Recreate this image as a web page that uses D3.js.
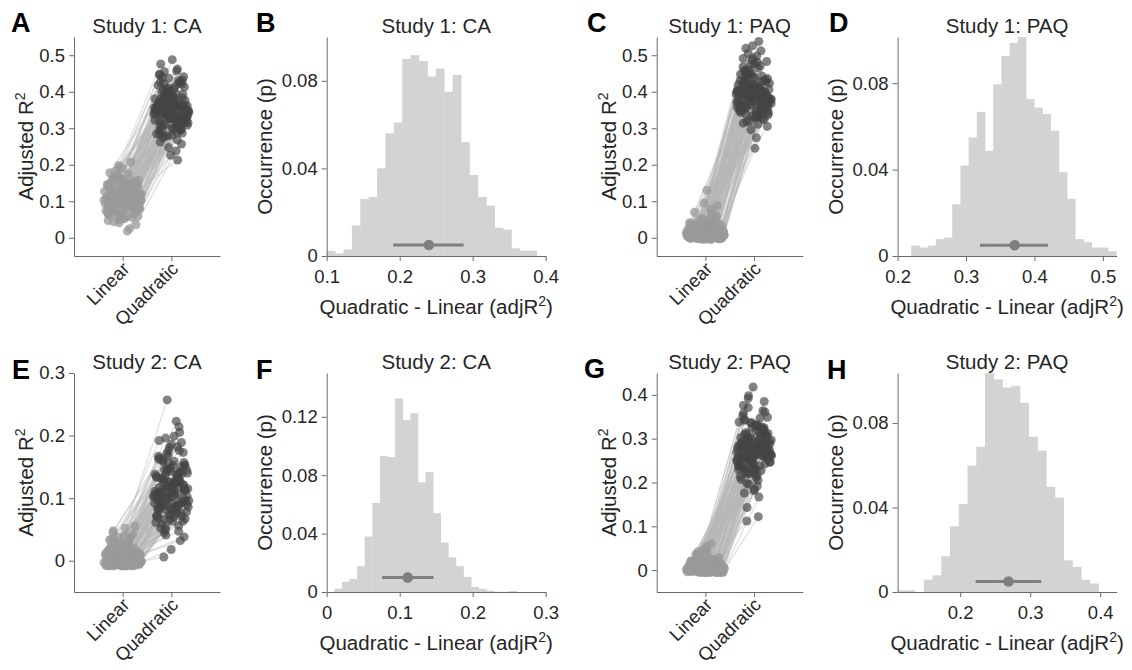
<!DOCTYPE html>
<html>
<head>
<meta charset="utf-8">
<script src="https://cdn.jsdelivr.net/npm/d3@7"></script>
<style>
  body { margin: 0; background: #fff; }
  svg text { font-family: "Liberation Sans", Arial, Helvetica, sans-serif; }
</style>
</head>
<body>
<svg id="fig" width="1132" height="670"></svg>
<script>
// ---------- Bootstrap samples of adjusted R^2 (linear vs quadratic fits) ----------
const modelNames = ["Linear", "Quadratic"];

const s1caLinear = [0.112,0.087,0.131,0.095,0.104,0.142,0.076,0.118,0.099,0.063,
0.125,0.108,0.091,0.154,0.082,0.113,0.101,0.047,0.136,0.097,
0.121,0.069,0.109,0.088,0.172,0.116,0.093,0.128,0.079,0.105,
0.146,0.058,0.111,0.098,0.133,0.084,0.119,0.102,0.036,0.124,
0.090,0.107,0.161,0.072,0.115,0.096,0.139,0.081,0.110,0.127,
0.066,0.103,0.149,0.094,0.120,0.053,0.114,0.086,0.198,0.100,
0.130,0.075,0.117,0.092,0.144,0.106,0.061,0.122,0.089,0.135,
0.025,0.108,0.157,0.078,0.126,0.097,0.112,0.070,0.140,0.101,
0.083,0.119,0.044,0.132,0.094,0.178,0.105,0.073,0.123,0.099,
0.151,0.085,0.116,0.059,0.129,0.091,0.207,0.104,0.068,0.018,
0.134,0.071,0.118,0.162,0.095,0.049,0.127,0.106,0.183,0.088,
0.141,0.064,0.113,0.152,0.079,0.101,0.168,0.056,0.124,0.093,
0.137,0.077,0.109,0.189,0.085,0.147,0.041,0.120,0.098,0.158,
0.067,0.131,0.110,0.174,0.082,0.143,0.052,0.115,0.096,0.165,
0.074,0.129,0.103,0.155,0.061,0.138,0.091,0.192,0.080,0.121];

const s1caQuadratic = [0.356,0.318,0.402,0.341,0.327,0.381,0.329,0.374,0.305,0.296,
0.391,0.338,0.352,0.422,0.287,0.345,0.362,0.268,0.369,0.334,
0.386,0.312,0.349,0.337,0.448,0.331,0.372,0.376,0.301,0.354,
0.431,0.279,0.343,0.325,0.405,0.314,0.358,0.347,0.238,0.379,
0.321,0.363,0.439,0.306,0.339,0.356,0.416,0.309,0.351,0.344,
0.293,0.333,0.409,0.346,0.384,0.274,0.361,0.328,0.476,0.340,
0.388,0.316,0.353,0.322,0.424,0.348,0.284,0.367,0.332,0.393,
0.226,0.357,0.457,0.311,0.362,0.336,0.373,0.299,0.411,0.344,
0.319,0.368,0.257,0.389,0.350,0.462,0.335,0.308,0.371,0.342,
0.428,0.326,0.355,0.288,0.397,0.330,0.488,0.359,0.213,0.247,
0.381,0.302,0.352,0.421,0.339,0.285,0.374,0.338,0.441,0.324,
0.397,0.296,0.366,0.418,0.317,0.347,0.432,0.281,0.371,0.329,
0.389,0.315,0.358,0.455,0.331,0.402,0.262,0.364,0.343,0.413,
0.298,0.379,0.355,0.437,0.322,0.395,0.278,0.361,0.336,0.426,
0.308,0.384,0.349,0.408,0.294,0.383,0.327,0.446,0.313,0.372];

const s1paqLinear = [0.012,0.004,0.027,-0.003,0.018,0.008,0.035,0.001,0.022,0.010,
0.046,0.006,0.015,-0.002,0.030,0.013,0.002,0.041,0.019,0.007,
0.025,-0.004,0.011,0.054,0.016,0.003,0.033,0.009,0.021,0.000,
0.038,0.014,0.005,0.062,0.024,-0.001,0.017,0.029,0.008,0.044,
0.012,0.002,0.026,0.070,0.010,0.019,-0.003,0.036,0.006,0.015,
0.050,0.004,0.023,0.011,-0.002,0.031,0.018,0.078,0.007,0.013,
0.040,0.001,0.020,0.009,0.028,-0.004,0.016,0.058,0.005,0.034,
0.012,0.003,0.088,0.022,0.010,-0.001,0.043,0.017,0.006,0.027,
0.014,0.130,0.008,0.037,0.002,0.020,0.048,0.011,-0.003,0.025,
0.015,0.066,0.004,0.032,0.009,0.019,0.000,0.095,0.013,0.039,
0.006,0.018,-0.002,0.011,0.029,0.003,0.014,-0.004,0.022,0.008,
0.035,0.001,0.016,0.010,-0.001,0.025,0.005,0.042,0.013,0.002,
0.019,-0.003,0.009,0.031,0.004,0.015,0.052,0.007,0.021,0.000,
0.012,0.027,-0.002,0.006,0.017,0.038,0.003,0.011,0.024,-0.004,
0.008,0.014,0.047,0.002,0.020,0.010,-0.001,0.033,0.005,0.016];

const s1paqQuadratic = [0.391,0.362,0.418,0.347,0.405,0.373,0.436,0.329,0.398,0.384,
0.452,0.357,0.412,0.318,0.427,0.379,0.366,0.471,0.393,0.341,
0.409,0.352,0.387,0.486,0.401,0.335,0.422,0.376,0.414,0.359,
0.443,0.381,0.368,0.498,0.396,0.324,0.403,0.431,0.388,0.461,
0.374,0.345,0.416,0.512,0.383,0.399,0.311,0.439,0.364,0.392,
0.468,0.355,0.420,0.378,0.338,0.425,0.397,0.526,0.371,0.389,
0.447,0.349,0.407,0.382,0.429,0.296,0.394,0.481,0.361,0.433,
0.386,0.343,0.538,0.411,0.377,0.331,0.456,0.400,0.367,0.419,
0.385,0.505,0.369,0.441,0.353,0.404,0.474,0.380,0.274,0.413,
0.390,0.492,0.358,0.426,0.372,0.406,0.245,0.519,0.384,0.448,
0.371,0.412,0.338,0.388,0.437,0.352,0.401,0.319,0.423,0.366,
0.458,0.343,0.395,0.379,0.331,0.431,0.361,0.476,0.392,0.348,
0.409,0.305,0.376,0.445,0.357,0.398,0.491,0.369,0.417,0.336,
0.384,0.429,0.326,0.363,0.404,0.465,0.355,0.386,0.421,0.314,
0.374,0.394,0.483,0.346,0.414,0.381,0.333,0.448,0.359,0.402];

const s2caLinear = [-0.006,0.004,-0.008,0.012,-0.002,0.001,0.019,-0.007,0.007,-0.004,
0.026,-0.001,0.003,-0.008,0.010,0.015,-0.005,0.033,0.002,-0.003,
0.006,-0.008,0.021,0.000,-0.006,0.013,0.040,-0.002,0.005,-0.007,
0.009,0.017,-0.004,0.001,0.028,-0.008,0.004,0.011,-0.001,0.052,
-0.005,0.008,0.002,-0.007,0.023,0.014,-0.003,0.006,0.036,-0.008,
0.000,0.010,-0.006,0.018,0.003,-0.002,0.045,0.007,-0.005,0.012,
-0.008,0.030,0.001,-0.004,0.016,0.005,-0.007,0.009,0.024,-0.001,
0.002,-0.006,0.055,0.013,-0.003,0.006,-0.008,0.020,0.000,0.038,
-0.005,0.011,0.004,-0.002,0.027,-0.007,0.008,0.015,-0.004,0.001,
0.048,-0.006,0.003,0.010,-0.008,0.022,0.006,-0.001,0.034,-0.003,
0.002,-0.005,0.009,-0.008,0.016,0.001,-0.003,0.025,0.005,-0.007,
0.012,-0.001,0.031,0.004,-0.006,0.008,0.019,-0.004,0.003,-0.008,
0.014,0.000,0.042,-0.002,0.007,-0.006,0.022,0.010,-0.008,0.002,
0.017,-0.004,0.005,0.029,-0.001,0.011,-0.007,0.006,0.037,-0.003,
0.013,0.001,-0.008,0.020,0.004,-0.005,0.009,0.026,-0.002,0.015];

const s2caQuadratic = [0.098,0.121,0.074,0.135,0.106,0.089,0.152,0.063,0.117,0.093,
0.168,0.102,0.128,0.045,0.112,0.143,0.084,0.182,0.109,0.078,
0.124,0.058,0.139,0.100,0.071,0.131,0.196,0.095,0.115,0.052,
0.126,0.147,0.086,0.104,0.161,0.032,0.119,0.133,0.091,0.257,
0.067,0.122,0.107,0.076,0.156,0.138,0.088,0.113,0.189,0.018,
0.097,0.129,0.081,0.145,0.111,0.094,0.214,0.125,0.072,0.134,
0.049,0.173,0.103,0.083,0.141,0.118,0.061,0.123,0.158,0.099,
0.110,0.069,0.223,0.137,0.090,0.116,0.006,0.150,0.101,0.192,
0.079,0.130,0.114,0.092,0.164,0.056,0.120,0.140,0.085,0.105,
0.205,0.066,0.108,0.127,0.041,0.153,0.119,0.096,0.176,0.087,
0.104,0.082,0.131,0.063,0.148,0.099,0.087,0.171,0.115,0.069,
0.132,0.094,0.181,0.111,0.075,0.124,0.157,0.081,0.107,0.047,
0.143,0.096,0.199,0.089,0.121,0.073,0.162,0.136,0.054,0.103,
0.152,0.085,0.117,0.176,0.092,0.138,0.066,0.113,0.186,0.079,
0.142,0.101,0.038,0.159,0.109,0.071,0.126,0.167,0.088,0.145];

const s2paqLinear = [0.003,-0.004,0.011,-0.001,0.006,-0.005,0.017,0.001,-0.003,0.008,
0.024,-0.002,0.004,-0.005,0.013,0.000,0.031,-0.004,0.007,0.002,
-0.005,0.010,0.019,-0.001,0.005,-0.003,0.038,0.003,-0.005,0.009,
0.014,-0.002,0.001,0.022,-0.004,0.006,0.060,0.000,-0.005,0.012,
0.004,-0.003,0.027,0.008,-0.001,0.002,-0.005,0.016,0.005,-0.004,
0.034,0.001,0.010,-0.002,0.007,-0.005,0.020,0.003,-0.003,0.013,
0.000,0.042,-0.004,0.006,0.009,-0.001,0.025,-0.005,0.004,0.015,
-0.002,0.002,0.029,-0.004,0.008,0.001,-0.005,0.018,0.005,-0.003,
0.011,0.047,-0.001,0.003,-0.005,0.021,0.007,0.000,-0.004,0.014,
0.036,-0.002,0.006,-0.005,0.009,0.002,0.023,-0.003,0.004,0.012,
-0.002,0.007,-0.005,0.013,0.001,-0.004,0.020,0.004,-0.003,0.009,
0.028,-0.001,0.005,-0.005,0.015,0.002,0.035,-0.004,0.008,0.000,
-0.005,0.011,0.023,-0.002,0.006,-0.004,0.044,0.003,-0.005,0.010,
0.016,-0.001,0.002,0.026,-0.003,0.007,0.054,0.001,-0.005,0.012,
0.004,-0.002,0.030,0.009,-0.004,0.003,0.018,-0.005,0.006,0.014];

const s2paqQuadratic = [0.271,0.243,0.298,0.256,0.281,0.219,0.312,0.262,0.234,0.289,
0.335,0.249,0.276,0.198,0.304,0.258,0.352,0.227,0.284,0.266,
0.211,0.293,0.321,0.252,0.279,0.238,0.371,0.268,0.184,0.291,
0.308,0.245,0.263,0.329,0.223,0.283,0.418,0.259,0.167,0.301,
0.274,0.231,0.342,0.287,0.254,0.269,0.205,0.314,0.278,0.229,
0.358,0.261,0.295,0.247,0.285,0.143,0.325,0.272,0.236,0.306,
0.257,0.385,0.221,0.282,0.290,0.251,0.338,0.192,0.275,0.310,
0.244,0.267,0.347,0.225,0.288,0.264,0.112,0.318,0.280,0.240,
0.299,0.398,0.253,0.270,0.176,0.327,0.286,0.260,0.216,0.309,
0.364,0.248,0.284,0.122,0.292,0.265,0.332,0.233,0.277,0.303,
0.252,0.283,0.227,0.306,0.264,0.238,0.322,0.275,0.246,0.291,
0.343,0.258,0.279,0.213,0.314,0.268,0.361,0.232,0.288,0.261,
0.221,0.297,0.331,0.255,0.284,0.242,0.376,0.273,0.196,0.294,
0.318,0.250,0.266,0.337,0.229,0.286,0.392,0.262,0.181,0.303,
0.277,0.236,0.349,0.290,0.257,0.270,0.326,0.207,0.281,0.311];

// ---------- Histograms of Quadratic - Linear (adjR^2), as proportions per bin ----------
const diffBinStart = [0.1, 0.2199, 0.0105, 0.1106];
const diffBinWidth = [0.0115, 0.01198, 0.0104, 0.01248];

const s1caOccurrence = [0.0023,0.0012,0.003,0.014,0.026,0.027,0.040,0.056,0.061,0.090,
0.0917,0.089,0.082,0.0856,0.075,0.0827,0.052,0.037,0.027,0.023,
0.0129,0.012,0.0035,0.0024,0.0024];
const s1paqOccurrence = [0.0048,0.0039,0.0048,0.0078,0.0085,0.0239,0.0419,0.0549,0.0667,0.0487,
0.0795,0.0926,0.0986,0.1014,0.0727,0.0687,0.0657,0.058,0.0388,0.0265,
0.0078,0.0064,0.0039,0.0039,0.0022];
const s2caOccurrence = [0.0023,0.0069,0.009,0.0177,0.038,0.061,0.0931,0.0924,0.1326,0.1177,
0.1225,0.0752,0.0821,0.054,0.0338,0.0237,0.0177,0.0103,0.0034,0.0021,
0.0009,0.0002,0.0002,0.0007];
const s2paqOccurrence = [0.0008,0.0008,0,0.0058,0.0079,0.0169,0.0311,0.0417,0.0598,0.0688,
0.1036,0.1007,0.0968,0.0976,0.0896,0.0735,0.0669,0.0498,0.0447,0.015,
0.0119,0.0058,0.004];

// Mean difference with its interval, drawn as a dot and bar inside each histogram
const diffMean = [0.240, 0.371, 0.111, 0.269];
const diffLow  = [0.191, 0.3205, 0.076, 0.222];
const diffHigh = [0.2875, 0.4196, 0.1463, 0.3157];
const diffMarkY = [0.005, 0.005, 0.01, 0.005];

// ---------- Axis ranges and ticks ----------
const scatterYDomains = [[-0.05, 0.55], [-0.05, 0.55], [-0.05, 0.3], [-0.05, 0.45]];
const scatterYTicks = [[0,0.1,0.2,0.3,0.4,0.5], [0,0.1,0.2,0.3,0.4,0.5], [0,0.1,0.2,0.3], [0,0.1,0.2,0.3,0.4]];
const histXDomains = [[0.1, 0.4], [0.2, 0.52], [0, 0.3], [0.1106, 0.4234]];
const histYDomains = [[0, 0.1], [0, 0.1014], [0, 0.15], [0, 0.1037]];
const histXTicks = [[0.1,0.2,0.3,0.4], [0.2,0.3,0.4,0.5], [0,0.1,0.2,0.3], [0.2,0.3,0.4]];
const histYTicks = [[0,0.04,0.08], [0,0.04,0.08], [0,0.04,0.08,0.12], [0,0.04,0.08]];

const studyTitles = ["Study 1: CA", "Study 1: PAQ", "Study 2: CA", "Study 2: PAQ"];
const scatterLetters = ["A", "C", "E", "G"];
const histLetters = ["B", "D", "F", "H"];

// ---------- Layout ----------
const svg = d3.select("#fig");
const ink = "#262626", axisInk = "#6a6a6a";
const FONT = '"Liberation Sans", Arial, Helvetica, sans-serif';
const colX = [74, 326.7, 656.7, 897.6];
const rowY = [37, 373];
const plotH = 219, scatterW = 146, histW = 219;
const letterPos = {A:[11,32], B:[256,32], C:[587,32], D:[829,32], E:[12,379], F:[256,379], G:[584,378], H:[827,379]};

const fmt = v => v === 0 ? "0" : String(+v.toFixed(3));

function styleAxis(g) {
  g.select(".domain").attr("stroke", axisInk).attr("stroke-width", 1);
  g.selectAll(".tick line").attr("stroke", axisInk).attr("stroke-width", 1);
  g.selectAll(".tick text").attr("fill", ink).style("font-size", "18.5px").style("font-family", FONT);
}

// horizontal spread of a cloud: wider where values are dense
function spread(values, halfWidth, phase) {
  const [lo, hi] = d3.extent(values);
  const bw = (hi - lo) / 7;
  const dens = values.map(v => d3.sum(values, u => Math.exp(-0.5 * ((v - u) / bw) ** 2)));
  const maxD = d3.max(dens);
  return values.map((v, i) => {
    const s = ((i * 0.6180339887 + phase) % 1) * 2 - 1;
    return s * halfWidth * (0.6 + 0.4 * dens[i] / maxD);
  });
}

function panelLetter(l) {
  svg.append("text").attr("x", letterPos[l][0]).attr("y", letterPos[l][1])
    .attr("font-size", 27).attr("font-weight", "bold").attr("fill", "#000").text(l);
}

function title(cx, y0, t) {
  svg.append("text").attr("x", cx).attr("y", y0 - 4).attr("text-anchor", "middle")
    .attr("font-size", 20.5).attr("fill", ink).text(t);
}

function drawScatter(k, lin, quad) {
  const col = (k % 2) * 2, row = Math.floor(k / 2);
  const x0 = colX[col], y0 = rowY[row];
  const x = d3.scaleLinear().domain([0, 3]).range([x0, x0 + scatterW]);
  const y = d3.scaleLinear().domain(scatterYDomains[k]).range([y0 + plotH, y0]);
  const g = svg.append("g");
  const jl = spread(lin, 0.40, 0.5), jq = spread(quad, 0.37, 0.21);

  g.append("g").selectAll("line").data(lin).join("line")
    .attr("x1", (d, i) => x(1 + jl[i])).attr("y1", d => y(d))
    .attr("x2", (d, i) => x(2 + jq[i])).attr("y2", (d, i) => y(quad[i]))
    .attr("stroke", "#b8b8b8").attr("stroke-opacity", 0.42).attr("stroke-width", 1.3);
  g.append("g").selectAll("circle").data(lin).join("circle")
    .attr("cx", (d, i) => x(1 + jl[i])).attr("cy", d => y(d)).attr("r", 4.5)
    .attr("fill", "#999").attr("fill-opacity", 0.75);
  g.append("g").selectAll("circle").data(quad).join("circle")
    .attr("cx", (d, i) => x(2 + jq[i])).attr("cy", d => y(d)).attr("r", 4.5)
    .attr("fill", "#444").attr("fill-opacity", 0.66);

  g.append("g").attr("transform", `translate(${x0},0)`)
    .call(d3.axisLeft(y).tickValues(scatterYTicks[k]).tickFormat(fmt).tickSize(5).tickSizeOuter(0).tickPadding(4))
    .call(styleAxis);
  g.append("g").attr("transform", `translate(0,${y0 + plotH})`)
    .call(d3.axisBottom(x).tickValues([1, 2]).tickFormat("").tickSize(5).tickSizeOuter(0))
    .call(styleAxis);
  modelNames.forEach((n, i) => {
    g.append("text").attr("text-anchor", "end").attr("font-size", 18.5).attr("fill", ink)
      .attr("transform", `translate(${x(i + 1) + 8},${y0 + plotH + 14}) rotate(-45)`).text(n);
  });

  const yl = g.append("text").attr("text-anchor", "middle").attr("font-size", 20.5).attr("fill", ink)
    .attr("transform", `translate(${x0 - 41},${y0 + plotH / 2}) rotate(-90)`);
  yl.append("tspan").text("Adjusted R");
  yl.append("tspan").attr("dy", -8).attr("font-size", 14).text("2");

  title(x0 + scatterW / 2, y0, studyTitles[k]);
  panelLetter(scatterLetters[k]);
}

function drawHist(k, occ) {
  const col = (k % 2) * 2 + 1, row = Math.floor(k / 2);
  const x0 = colX[col], y0 = rowY[row];
  const x = d3.scaleLinear().domain(histXDomains[k]).range([x0, x0 + histW]);
  const y = d3.scaleLinear().domain(histYDomains[k]).range([y0 + plotH, y0]);
  const g = svg.append("g");
  const bins = occ.map((v, i) => ({
    a: diffBinStart[k] + i * diffBinWidth[k],
    b: diffBinStart[k] + (i + 1) * diffBinWidth[k],
    v
  }));
  g.append("g").selectAll("rect").data(bins).join("rect")
    .attr("x", d => x(d.a)).attr("width", d => x(d.b) - x(d.a) + 0.4)
    .attr("y", d => y(d.v)).attr("height", d => y(0) - y(d.v))
    .attr("fill", "#d3d3d3");

  g.append("line").attr("x1", x(diffLow[k])).attr("x2", x(diffHigh[k]))
    .attr("y1", y(diffMarkY[k])).attr("y2", y(diffMarkY[k]))
    .attr("stroke", "#7f7f7f").attr("stroke-width", 3);
  g.append("circle").attr("cx", x(diffMean[k])).attr("cy", y(diffMarkY[k])).attr("r", 5.3)
    .attr("fill", "#7f7f7f");

  g.append("g").attr("transform", `translate(${x0},0)`)
    .call(d3.axisLeft(y).tickValues(histYTicks[k]).tickFormat(fmt).tickSize(5).tickSizeOuter(0).tickPadding(4))
    .call(styleAxis);
  g.append("g").attr("transform", `translate(0,${y0 + plotH})`)
    .call(d3.axisBottom(x).tickValues(histXTicks[k]).tickFormat(fmt).tickSize(5).tickSizeOuter(0).tickPadding(9))
    .call(styleAxis);

  const xl = g.append("text").attr("text-anchor", "middle").attr("font-size", 20.5).attr("fill", ink)
    .attr("x", x0 + histW / 2).attr("y", y0 + plotH + 58);
  xl.append("tspan").text("Quadratic - Linear (adjR");
  xl.append("tspan").attr("dy", -8).attr("font-size", 14).text("2");
  xl.append("tspan").attr("dy", 8).text(")");

  g.append("text").attr("text-anchor", "middle").attr("font-size", 20.5).attr("fill", ink)
    .attr("transform", `translate(${x0 - 55},${y0 + plotH / 2}) rotate(-90)`)
    .text("Occurrence (p)");

  title(x0 + histW / 2, y0, studyTitles[k]);
  panelLetter(histLetters[k]);
}

const scatterSets = [[s1caLinear, s1caQuadratic], [s1paqLinear, s1paqQuadratic],
                     [s2caLinear, s2caQuadratic], [s2paqLinear, s2paqQuadratic]];
const histSets = [s1caOccurrence, s1paqOccurrence, s2caOccurrence, s2paqOccurrence];

scatterSets.forEach((s, k) => drawScatter(k, s[0], s[1]));
histSets.forEach((h, k) => drawHist(k, h));
</script>
</body>
</html>
